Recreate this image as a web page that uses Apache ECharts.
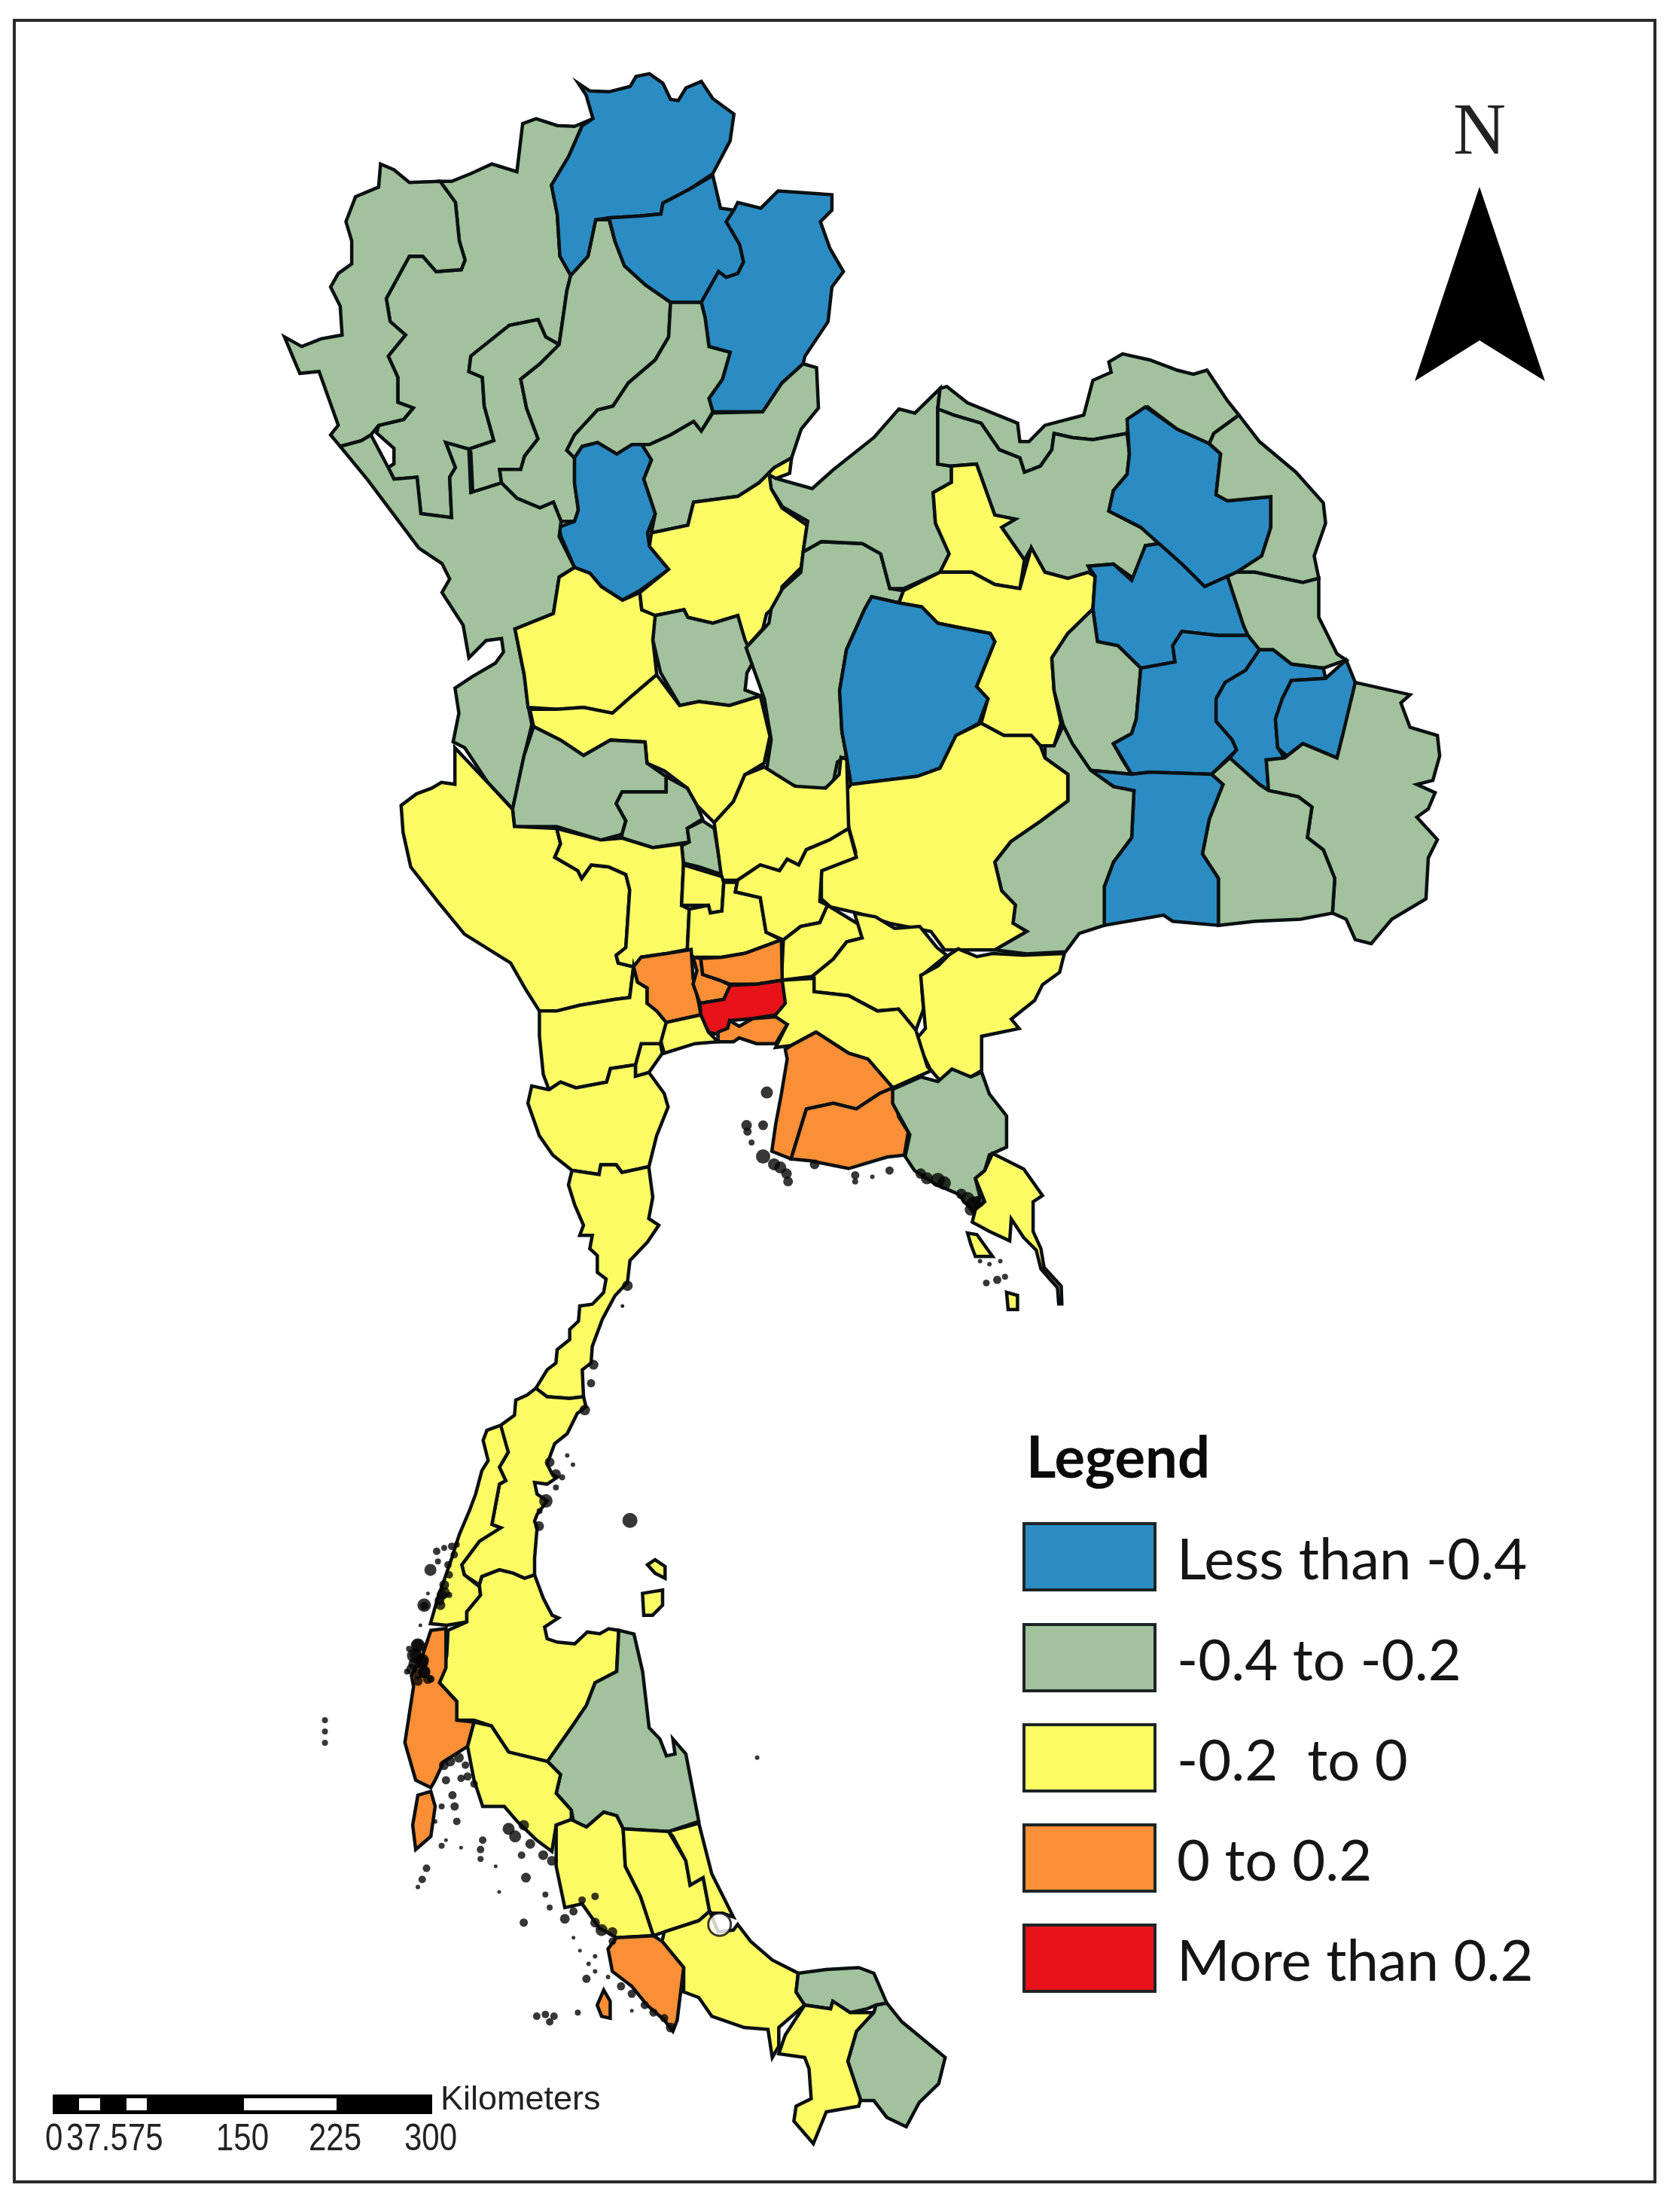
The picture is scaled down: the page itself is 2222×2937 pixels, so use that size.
<!DOCTYPE html>
<html><head><meta charset="utf-8">
<style>html,body{margin:0;padding:0;background:#fff}#c{width:2222px;height:2937px}</style>
<script src="https://cdn.jsdelivr.net/npm/echarts@6/dist/echarts.min.js"></script>
</head><body><div id="c"></div>
<script>
// crop frames in which the outlines were read: [x0, y0, scaleX, scaleY]
const frames = {
  a:[360,80,1.96,1.96], b:[1000,440,1.65,1.845], c:[520,850,1.96,1.96],
  d:[800,1150,2.412,2.412], e:[500,1600,3,2.24], f:[400,2100,1.742,2.01]
};
const legendLabels = ['Less than -0.4','-0.4 to -0.2','-0.2  to 0','0 to 0.2','More than 0.2'];
const legendColors = ['#2B8CC4','#A1C29C','#FDFB64','#FB8F35','#E8131A'];
const classMin = [null,-0.4,-0.2,0,0.2];
const classMax = [-0.4,-0.2,0,0.2,null];
const scaleLabels = ['0','37.5','75','150','225','300'];

const provinceNames = ['Chiang Mai','Mae Hong Son','Lamphun','Lampang','Chiang Rai','Phayao','Nan','Phrae','Uttaradit','Sukhothai','Tak','Kamphaeng Phet','Phitsanulok','Phichit','Phetchabun','Loei','Nong Khai','Udon Thani','Nong Bua Lam Phu','Khon Kaen','Chaiyaphum','Sakon Nakhon','Nakhon Phanom','Kalasin','Mukdahan','Maha Sarakham','Roi Et','Yasothon','Amnat Charoen','Ubon Ratchathani','Si Sa Ket','Surin','Buri Ram','Nakhon Ratchasima','Nakhon Sawan','Uthai Thani','Chai Nat','Sing Buri','Lop Buri','Kanchanaburi','Suphan Buri','Ang Thong','Ayutthaya','Saraburi','Nakhon Nayok','Prachin Buri','Sa Kaeo','Chachoengsao','Chon Buri','Rayong','Chanthaburi','Trat','Nakhon Pathom','Nonthaburi','Pathum Thani','Bangkok','Samut Prakan','Samut Sakhon','Samut Songkhram','Ratchaburi','Phetchaburi','Prachuap Khiri Khan','Chumphon','Ranong','Surat Thani','Phang Nga','Phuket','Nakhon Si Thammarat','Krabi','Trang','Phatthalung','Songkhla North','Songkhla','Satun','Pattani','Yala','Narathiwat'];
const provinceValues = [-0.3,-0.3,-0.3,-0.3,-0.5,-0.5,-0.5,-0.3,-0.3,-0.5,-0.3,-0.1,-0.1,-0.3,-0.3,-0.3,-0.3,-0.3,-0.1,-0.1,-0.5,-0.5,-0.3,-0.5,-0.3,-0.3,-0.5,-0.5,-0.5,-0.3,-0.3,-0.5,-0.3,-0.1,-0.1,-0.3,-0.3,-0.3,-0.1,-0.1,-0.1,-0.1,-0.1,-0.1,-0.1,-0.1,-0.1,-0.1,0.1,0.1,-0.3,-0.1,0.1,0.1,0.1,0.3,0.1,-0.1,-0.1,-0.1,-0.1,-0.1,-0.1,-0.1,-0.1,0.1,0.1,-0.3,-0.1,-0.1,-0.1,-0.1,-0.1,0.1,-0.3,-0.1,-0.3];
const provinceOutlines = [
['a','838,152 790,172 745,170 690,152 655,165 640,290 575,270 520,295 470,315 440,315 480,370 490,470 505,520 495,545 430,550 395,510 360,510 300,620 310,680 350,715 305,770 330,825 330,890 370,905 345,935 280,950 275,970 320,1010 320,1050 305,1060 320,1090 380,1085 390,1180 470,1190 465,1085 480,1060 455,995 515,1012 580,990 555,900 550,825 515,810 520,770 620,690 695,675 715,720 750,740 770,600 780,560 752,510 745,400 730,325 775,250 810,170'],
['a','440,315 360,318 320,285 285,270 280,330 220,355 195,420 210,470 210,530 175,555 155,590 180,640 185,715 130,725 80,745 35,720 60,780 75,815 125,810 150,880 175,950 155,975 180,1005 235,990 260,975 280,950 345,935 370,905 330,890 330,825 305,770 350,715 310,680 300,620 360,510 395,510 430,550 495,545 505,520 490,470 480,370'],
['a','620,690 695,675 715,720 750,740 700,790 650,830 665,905 695,985 660,1030 650,1065 595,1065 600,1100 525,1125 520,1020 515,1012 580,990 555,900 550,825 515,810 520,770'],
['a','845,415 880,415 895,470 920,535 975,585 1040,630 1035,720 1000,780 930,840 890,900 850,910 790,975 770,1015 790,1035 790,1100 800,1170 790,1200 755,1200 735,1150 700,1165 640,1140 600,1100 595,1065 650,1065 660,1030 695,985 665,905 650,830 700,790 750,740 770,600 780,560 825,510'],
['a','800,60 830,80 880,82 935,68 950,42 985,35 1020,60 1040,102 1060,105 1080,72 1120,55 1150,100 1205,140 1195,210 1150,295 1090,335 1020,372 1015,400 960,405 880,410 845,415 825,510 780,560 752,510 745,400 730,325 775,250 810,170 838,152 820,90'],
['a','880,410 960,405 1015,400 1020,372 1090,335 1150,300 1170,385 1205,390 1185,420 1220,480 1230,525 1215,555 1185,565 1165,550 1120,630 1040,630 975,585 920,535 895,470'],
['a','1205,390 1215,370 1275,385 1320,340 1390,345 1460,350 1460,390 1430,420 1455,490 1490,550 1460,590 1450,680 1390,770 1385,790 1330,840 1280,915 1150,915 1140,880 1175,830 1195,760 1140,745 1130,670 1120,630 1165,550 1185,565 1215,555 1230,525 1220,480 1185,420'],
['a','1040,630 1120,630 1130,670 1140,745 1195,760 1175,830 1140,880 1150,915 1120,965 1100,940 1040,975 985,1000 940,1000 900,1025 850,995 810,1005 790,1035 770,1015 790,975 850,910 890,900 930,840 1000,780 1035,720'],
['a','1150,918 1280,915 1330,840 1385,790 1420,800 1425,905 1380,960 1355,1035 1310,1060 1270,1100 1215,1135 1100,1150 1085,1210 990,1230 1000,1180 970,1090 990,1040 965,1000 985,1000 1040,975 1100,940 1120,965'],
['a','810,1005 850,995 900,1025 940,1000 965,1000 990,1040 970,1090 1000,1180 980,1230 985,1265 1035,1325 960,1380 915,1405 860,1370 830,1335 790,1320 755,1240 750,1215 790,1200 800,1170 790,1100 790,1035'],
['a','180,1005 235,990 260,975 305,1060 320,1090 380,1085 390,1180 470,1190 465,1085 480,1060 455,995 515,1012 520,1125 600,1100 640,1140 700,1165 735,1150 755,1200 750,1240 790,1320 750,1345 735,1440 635,1480 659,1599 669,1679 679,1729 659,1809 629,1949 564,1879 504,1789 474,1774 489,1699 479,1634 524,1604 584,1569 605,1540 600,1505 560,1510 515,1555 500,1470 445,1385 465,1350 445,1310 385,1270 310,1170 250,1090'],
['a','635,1480 735,1440 750,1345 790,1320 830,1335 860,1370 915,1405 960,1385 965,1430 1005,1445 994,1509 1004,1599 934,1659 889,1699 814,1684 744,1689 669,1684 659,1599'],
['a','1355,1035 1350,1075 1310,1090 1305,1120 1330,1165 1395,1210 1380,1320 1330,1370 1325,1410 1290,1440 1280,1480 1235,1530 1215,1445 1150,1465 1085,1450 1075,1430 1000,1445 965,1430 960,1385 1035,1325 985,1265 990,1230 1085,1210 1100,1150 1215,1135 1270,1100 1310,1060'],
['a','1000,1445 1075,1430 1085,1450 1150,1465 1215,1445 1234,1509 1259,1559 1239,1594 1234,1639 1274,1654 1194,1679 1114,1669 1064,1679 1014,1594 994,1509'],
['b','150,515 240,520 280,545 300,630 330,635 320,665 260,650 245,680 205,780 190,880 195,980 205,1040 185,1055 175,1110 130,1130 85,1110 30,1075 40,1000 25,900 -15,775 10,745 35,715 40,680 65,630 105,590 110,540'],
['b','36,352 50,360 130,385 175,340 265,260 320,190 355,200 410,140 405,190 405,325 435,330 435,370 395,395 400,470 430,545 410,590 330,630 300,630 280,545 240,520 150,515 110,540 120,465 65,430 40,385'],
['b','410,140 425,135 470,175 580,225 585,270 605,270 640,230 725,205 745,120 785,100 780,75 810,55 870,70 930,95 965,105 995,95 1040,170 1065,205 1010,250 1000,275 930,240 865,185 825,215 820,250 745,265 700,260 660,250 655,290 630,330 595,345 585,310 540,290 500,225 440,205 405,190'],
['b','405,190 440,205 500,225 540,290 585,310 595,345 630,330 655,290 660,250 700,260 745,265 820,250 825,300 820,350 790,390 780,440 850,480 890,520 860,525 840,610 790,570 735,575 745,600 690,605 640,590 610,530 595,560 545,480 575,460 530,450 490,325 435,330 405,325'],
['b','435,330 490,325 530,450 575,460 545,480 595,560 585,630 530,620 480,590 410,590 430,545 400,470 395,395 435,370'],
['b','330,635 410,590 480,590 530,620 585,630 610,530 640,590 690,605 735,590 750,600 745,680 690,740 655,800 660,880 675,960 660,1015 630,1015 610,990 550,990 500,960 515,900 490,870 530,760 520,740 450,725 405,715 370,675 320,665'],
['b','260,650 320,665 370,675 405,715 450,725 520,740 530,760 490,870 515,900 495,960 445,990 410,1070 360,1090 285,1100 215,1110 205,1040 195,980 190,880 205,780 245,680'],
['b','860,185 930,240 1000,275 1025,300 1015,400 1040,415 1135,405 1135,480 1115,550 1060,590 990,625 940,570 890,520 850,480 780,440 790,390 820,350 825,300 820,215'],
['b','1065,205 1110,270 1190,345 1250,420 1255,470 1230,550 1240,605 1205,615 1100,590 1060,590 1115,550 1135,480 1135,405 1040,415 1015,400 1025,300 1000,275 1010,250'],
['b','735,575 790,570 830,610 860,525 890,520 940,570 990,625 1040,600 1075,720 1085,745 1020,745 940,735 920,770 925,810 850,825 800,770 755,760 745,680 750,600'],
['b','1040,600 1060,590 1100,590 1205,615 1240,605 1240,700 1280,790 1300,805 1250,825 1180,815 1140,780 1110,780 1085,745 1075,720'],
['b','745,680 755,760 800,770 850,825 840,950 830,985 790,1010 810,1050 830,1085 740,1075 700,1010 680,965 660,880 655,800 690,740'],
['b','850,825 925,810 920,770 940,735 1020,745 1085,745 1110,780 1080,830 1035,860 1015,900 1015,955 1050,1000 1060,1025 1005,1085 870,1080 830,1085 790,1010 830,985 840,950'],
['b','1110,780 1140,780 1180,815 1250,825 1255,850 1180,855 1160,900 1145,950 1150,1020 1165,1045 1125,1050 1130,1125 1110,1110 1045,1045 1060,1025 1050,1000 1015,955 1015,900 1035,860 1080,830'],
['b','1180,855 1255,850 1300,805 1320,860 1310,920 1290,1000 1280,1045 1205,1010 1170,1040 1150,1020 1145,950 1160,900'],
['b','1320,860 1440,890 1420,910 1440,970 1500,990 1505,1040 1490,1100 1455,1110 1495,1130 1480,1170 1455,1190 1500,1245 1480,1290 1475,1390 1400,1440 1355,1500 1320,1490 1300,1440 1270,1425 1275,1340 1250,1270 1215,1240 1225,1165 1195,1140 1130,1125 1125,1050 1165,1045 1205,1010 1280,1045 1290,1000'],
['b','1005,1085 1045,1045 1110,1110 1130,1125 1195,1140 1225,1165 1215,1240 1250,1270 1275,1340 1270,1425 1200,1440 1100,1445 1020,1455 1020,1340 985,1280 1000,1195 1030,1110'],
['b','740,1075 830,1085 870,1080 1005,1085 1030,1110 1000,1195 985,1280 1020,1340 1020,1455 920,1445 900,1430 770,1455 770,1360 790,1300 830,1240 835,1125 790,1115'],
['b','640,1015 660,1015 680,965 700,1010 740,1075 790,1115 835,1125 830,1240 790,1300 770,1360 770,1455 715,1475 685,1520 600,1525 530,1515 600,1470 570,1450 575,1405 545,1370 530,1300 565,1250 630,1200 690,1150 690,1085 640,1045'],
['b','500,960 550,990 610,990 630,1015 640,1045 690,1085 690,1150 630,1200 565,1250 530,1300 545,1370 575,1405 570,1450 600,1470 530,1515 420,1515 390,1470 300,1450 230,1425 170,1410 150,1390 150,1320 225,1275 210,1215 200,1130 215,1110 285,1100 360,1090 410,1070 445,990'],
['c','360,180 430,180 500,175 575,190 620,150 690,90 750,170 800,160 880,170 960,145 985,250 970,320 920,350 890,420 840,475 795,430 770,385 710,340 665,320 660,265 570,260 500,300 440,260 370,225'],
['c','370,225 440,260 500,300 570,260 660,265 665,320 715,355 715,395 600,395 585,425 610,470 600,505 545,520 430,485 320,485 315,440 345,300'],
['c','715,395 715,355 770,385 795,430 810,465 770,490 775,525 680,540 600,515 600,505 610,470 585,425 600,395'],
['c','770,490 810,470 840,490 850,550 860,610 800,590 760,580 755,535 775,525'],
['c','840,475 890,420 920,350 970,330 1050,380 1130,385 1165,350 1170,305 1185,310 1190,490 1140,520 1080,545 1060,585 1030,570 1010,600 960,585 900,625 860,625 850,550'],
['c','165,280 250,370 315,440 320,485 430,490 440,530 425,565 485,600 495,620 520,585 565,590 610,610 620,650 610,800 585,820 590,840 630,850 620,930 580,935 490,950 430,965 385,965 350,910 310,840 190,765 120,680 50,590 30,500 25,430 65,400 105,385 130,370 165,375'],
['c','430,490 545,520 600,515 680,540 755,530 760,585 755,690 775,700 770,805 720,815 650,825 630,850 590,840 585,820 610,800 620,650 610,610 565,590 520,585 495,620 485,600 425,565 440,530'],
['c','760,585 860,615 865,630 860,705 830,710 825,690 755,690'],
['c','775,700 825,690 830,710 860,705 865,630 900,630 895,655 960,670 975,760 1015,780 920,815 860,825 785,825 770,805'],
['c','860,625 900,625 960,585 1010,600 1030,570 1060,585 1080,545 1140,520 1190,490 1210,565 1120,600 1115,680 1135,690 1115,735 1065,745 1020,780 975,760 960,670 895,655 900,630'],
['c','1020,780 1065,745 1115,735 1135,690 1225,745 1225,775 1185,785 1150,830 1095,875 1015,885'],
['c','1095,875 1150,830 1185,785 1225,775 1205,710 1260,720 1310,750 1375,745 1420,800 1445,820 1390,865 1380,900 1385,960 1365,1015 1320,960 1265,965 1190,925 1100,915'],
['d','1110,285 1140,265 1200,290 1250,280 1350,285 1480,280 1465,340 1410,380 1385,430 1310,490 1335,520 1215,545 1215,655 1180,675 1120,655 1080,685 1050,650 1005,555 1035,520 1020,350 1075,320'],
['c','1015,885 1100,880 1100,915 1190,925 1265,965 1320,960 1365,1015 1395,1110 1405,1120 1305,1165 1240,1090 1190,1075 1105,1020 1040,1055 1000,1060 1030,1000 990,985 1020,930'],
['c','1040,1055 1105,1020 1190,1075 1240,1090 1305,1165 1270,1180 1210,1220 1150,1205 1080,1220 1040,1350 990,1330 1000,1260 1015,1180 1030,1090 1025,1065'],
['c','1080,1220 1150,1205 1210,1220 1270,1180 1305,1165 1320,1240 1345,1280 1335,1340 1290,1345 1190,1375 1090,1355 1040,1350'],
['d','930,715 1020,675 1075,690 1120,650 1180,675 1215,660 1240,730 1295,800 1295,900 1240,925 1225,975 1195,1000 1210,1060 1190,1110 1140,1050 1070,1020 1000,975 970,930 985,860 960,815 930,760'],
['d','1250,920 1290,940 1350,970 1410,1055 1380,1075 1380,1170 1405,1225 1415,1285 1470,1345 1472,1402 1462,1402 1458,1350 1405,1290 1390,1230 1350,1190 1310,1130 1305,1200 1240,1170 1185,1140 1195,1100 1225,1075 1195,1000 1225,975','1170,1175 1200,1180 1250,1250 1195,1250 1180,1210','1295,1365 1330,1375 1330,1420 1300,1420'],
['c','630,850 650,825 720,815 780,805 785,880 800,945 805,975 715,995 690,965 665,945 665,905 640,890'],
['c','785,825 805,828 810,870 855,885 882,898 865,935 803,945 785,895 795,860'],
['c','805,828 860,825 920,815 1015,780 1017,885 950,895 880,895 855,885 810,870'],
['c','882,898 950,895 1017,885 1025,945 1000,975 940,985 880,990 875,1010 845,1025 825,1020 805,975 803,945 865,935'],
['c','905,1005 940,985 1000,980 1030,1000 1000,1050 950,1050 905,1035 890,1045 850,1045 850,1020 875,1010 880,990'],
['c','715,995 805,975 825,1020 850,1045 790,1050 710,1075 700,1040'],
['c','650,1050 700,1050 705,1075 670,1125 635,1135 635,1105'],
['c','385,965 430,965 490,950 580,935 620,930 630,850 640,890 665,905 665,945 690,965 715,995 700,1050 650,1050 635,1105 570,1115 560,1150 480,1165 440,1150 410,1170 395,1130 385,1030'],
['c','410,1170 440,1150 480,1165 560,1150 570,1115 635,1105 635,1135 670,1125 710,1180 720,1215 690,1290 670,1370 600,1385 585,1365 545,1365 540,1390 470,1380 420,1340 385,1290 355,1205 365,1160'],
['e','779,-103 887,-91 894,-120 955,-120 978,-97 1085,-114 1101,-23 1085,40 1125,60 1080,110 1010,165 1000,230 950,270 900,340 860,420 855,470 820,490 825,570 770,575 680,570 635,545 680,490 715,470 720,430 770,400 770,370 805,345 810,300 860,295 905,260 915,220 880,200 880,150 850,130 860,90 810,90 825,60 790,0 765,-60'],
['e','635,545 680,570 770,575 825,570 835,600 800,620 760,680 710,710 680,770 700,800 720,810 680,830 630,825 640,860 680,880 640,920 630,940 640,960 630,1050 630,1100 590,1110 545,1095 490,1085 420,1105 410,1130 350,1100 340,1070 410,1000 495,960 460,950 490,830 515,820 490,780 525,735 495,670 495,655 550,625 555,580 600,565'],
['e','495,655 525,735 490,780 515,820 490,830 460,950 495,960 410,1000 340,1070 350,1100 410,1135 415,1160 360,1210 360,1240 280,1250 215,1245 240,1180 300,1050 330,980 370,910 395,860 420,790 445,760 425,700 440,670'],
['e','420,1105 490,1085 545,1095 590,1110 630,1100 665,1170 700,1220 725,1228 670,1255 680,1290 720,1300 790,1305 840,1270 890,1275 925,1260 965,1265 957,1387 871,1421 837,1488 776,1554 682,1655 527,1627 458,1549 389,1532 320,1532 320,1476 251,1421 280,1340 285,1265 360,1240 360,1210 415,1160 410,1130','1080,1070 1110,1055 1150,1075 1150,1110 1110,1095','1060,1155 1100,1150 1140,1145 1140,1190 1100,1220 1065,1220'],
['f','300,130 335,125 335,230 320,270 360,320 360,370 400,375 385,440 330,480 310,530 300,550 265,530 240,430 260,280 255,250 280,200'],
['f','270,570 300,560 310,600 300,680 265,715 258,650'],
['f','735,130 770,140 790,240 805,390 830,420 845,465 865,460 860,420 890,460 920,640 850,667 745,660 730,625 700,615 660,655 630,640 625,610 590,565 600,515 570,480 625,390 660,330 680,270 730,240'],
['f','400,375 440,385 480,455 570,480 600,515 590,565 625,610 625,635 590,650 580,720 545,690 500,640 470,600 420,600 400,530 385,440'],
['f','625,635 660,655 700,615 730,625 745,660 750,760 785,840 815,945 730,950 690,925 650,860 610,870 590,760 590,650'],
['f','745,660 850,667 890,745 900,810 930,790 945,880 920,905 840,935 815,945 785,840 750,760'],
['f','850,667 920,645 950,780 1000,895 975,885 950,885 945,880 930,790 900,810 890,745 860,680'],
['f','840,935 920,905 945,880 965,935 1000,930 1010,915 1040,960 1090,1010 1150,1045 1145,1095 1165,1130 1105,1190 1105,1240 1090,1270 1080,1195 1025,1190 950,1160 920,1110 885,1095 885,1030 835,960'],
['f','730,950 815,945 835,960 885,1030 870,1170 860,1200 840,1170 800,1130 765,1080 720,1040 710,980','700,1090 715,1120 715,1165 695,1160 685,1130'],
['f','1150,1045 1215,1035 1290,1030 1325,1045 1355,1125 1330,1130 1310,1140 1270,1150 1230,1120 1225,1140 1165,1130 1145,1095'],
['f','1165,1130 1225,1140 1230,1120 1270,1150 1325,1150 1285,1200 1265,1280 1295,1380 1290,1400 1215,1415 1185,1500 1140,1440 1145,1400 1180,1380 1175,1300 1165,1270 1105,1260 1120,1210'],
['f','1330,1130 1355,1125 1390,1175 1490,1270 1475,1340 1430,1390 1400,1455 1355,1430 1325,1385 1295,1385 1265,1280 1285,1200 1325,1150']
];
// small offshore islands: frame, then x,y,size triples
const isletGroups = [
['d','527,725,16 462,830,14 465,850,11 515,830,13 478,885,8 515,930,19 550,955,16 570,965,16 590,985,14 595,1010,13 680,955,13 810,990,11 810,1010,8 865,995,6 920,975,11 1020,985,14 1040,1000,16 1075,1005,19 1095,1015,18 1150,1050,14 1170,1065,18 1190,1080,19 1205,1075,16 1180,1100,16 1210,1265,6 1240,1275,6 1275,1265,6 1230,1335,9 1265,1325,11 1290,1315,8 65,1410,3'],
['e','1000,240,14 980,300,5 865,475,13 855,530,11 830,610,14 760,745,6 783,772,6 690,765,13 715,800,13 740,810,8 715,840,8 675,880,18 650,910,8 648,955,13 1010,938,20 215,1085,16 190,1190,18 205,1155,5 175,1250,5 240,1030,10 270,1020,8 300,1015,10 320,1010,8 310,1040,10 245,1060,8 285,1070,10 290,1100,10 270,1130,13 260,1160,14 255,1190,13 290,1160,8 165,1310,19 150,1340,19 180,1360,18 140,1380,14 190,1390,16 205,1410,13 165,1395,14 130,1320,8'],
['f','55,370,8 55,400,8 55,430,8 1055,470,6 285,65,11 330,30,16 320,50,13 270,170,16 265,195,16 262,220,16 280,210,18 285,240,16 270,265,13 245,240,8 300,260,10 330,490,13 345,480,13 365,470,13 380,490,10 335,530,11 370,525,10 385,520,11 400,540,10 350,570,11 355,600,11 360,640,10 325,600,8 310,640,6 335,690,5 370,710,5 325,705,8 420,690,10 415,715,10 415,740,8 290,765,10 280,795,10 270,815,6 450,760,5 458,828,5 480,660,16 495,680,16 515,650,14 530,700,13 510,730,10 560,730,13 580,745,13 520,790,13 565,835,8 575,870,8 610,900,13 630,880,11 650,850,10 680,840,10 515,910,11 630,950,5 645,985,5 680,1000,6 665,1020,6 660,1060,11 680,1040,6 710,1055,6 680,910,13 695,930,16 720,935,13 740,1080,11 765,1100,11 795,1130,11 815,1150,11 765,1145,5 855,1190,13 840,1165,11 545,1160,10 565,1155,10 585,1160,10 575,1175,10 640,1150,8 720,960,10']
];
const lakes = [['f',968,915,30]];

const toPage = (fr,x,y)=>{const f=frames[fr];return [f[0]+x/f[2], -(f[1]+y/f[3])];};
const closeRing = r => r.concat([r[0]]);
const parseRing = (fr,s)=>closeRing(s.trim().split(/\s+/).map(p=>{const q=p.split(',').map(Number);return toPage(fr,q[0],q[1]);}));
const geojson = {type:'FeatureCollection',features:provinceNames.map((n,i)=>{
  const o=provinceOutlines[i];
  return {type:'Feature',properties:{name:n},geometry:{type:'MultiPolygon',
    coordinates:o.slice(1).map(s=>[parseRing(o[0],s)])}};
})};
echarts.registerMap('thailand',geojson);

const isletData=[];
isletGroups.forEach(g=>g[1].trim().split(/\s+/).forEach(t=>{
  const q=t.split(',').map(Number);const p=toPage(g[0],q[0],q[1]);isletData.push([p[0],p[1],q[2]]);
}));
const lakeData=lakes.map(l=>{const p=toPage(l[0],l[1],l[2]);return [p[0],p[1],l[3]];});

const txt=(x,y,text,font,size,extra,sy)=>({type:'text',x,y,scaleY:sy||1,silent:true,style:Object.assign({text,fontFamily:font,fontSize:size,fill:'#151515',textVerticalAlign:'bottom'},extra||{})});
const g=[];
g.push({type:'rect',silent:true,shape:{x:19,y:27,width:2179,height:2870},style:{fill:'none',stroke:'#2a2a2a',lineWidth:4}});
g.push(txt(1965,227,'N','"Liberation Serif"',97,{textAlign:'center',fill:'#222'}));
g.push({type:'polygon',silent:true,shape:{points:[[1965,248],[2052,506],[1965,452],[1879,506]]},style:{fill:'#000'}});
g.push(txt(1363,1975,'Legend','Lato',76,{fontWeight:'bold',fill:'#0a0a0a'}));
const swatchTop=[2023,2157,2290,2423,2556];
legendLabels.forEach((l,i)=>{
  g.push({type:'rect',silent:true,shape:{x:1360,y:swatchTop[i],width:174,height:88},style:{fill:legendColors[i],stroke:'#1c2426',lineWidth:4}});
  g.push(txt(1563,swatchTop[i]+87,l,'Lato',76));
});
g.push({type:'rect',silent:true,shape:{x:70,y:2781,width:504,height:26},style:{fill:'#000'}});
[[105,28],[168,27],[324,123]].forEach(b=>g.push({type:'rect',silent:true,shape:{x:b[0],y:2786,width:b[1],height:16},style:{fill:'#fff'}}));
g.push(txt(585,2811,'Kilometers','"Liberation Sans"',45,{fill:'#222'}));
const scaleX=[60,88,170,287,410,537];
scaleLabels.forEach((s,i)=>g.push(txt(scaleX[i],2866,s,'"Liberation Sans"',42,{fill:'#222'},1.17)));

const chart=echarts.init(document.getElementById('c'),null,{renderer:'canvas',width:2222,height:2937});
chart.setOption({
  animation:false,backgroundColor:'#fff',
  geo:{map:'thailand',aspectScale:1,boundingCoords:[[0,0],[2222,-2937]],layoutCenter:[1111,1468.5],layoutSize:2937,roam:false,silent:true,
    label:{show:false},itemStyle:{borderColor:'#0a1012',borderWidth:4.5,areaColor:'#fff'},emphasis:{disabled:true},select:{disabled:true}},
  visualMap:{type:'piecewise',show:false,seriesIndex:0,
    pieces:legendLabels.map((l,i)=>{const p={label:l,color:legendColors[i]};if(classMin[i]!==null)p.min=classMin[i];if(classMax[i]!==null)p.max=classMax[i];return p;})},
  series:[
    {type:'map',geoIndex:0,silent:true,data:provinceNames.map((n,i)=>({name:n,value:provinceValues[i]}))},
    {type:'scatter',coordinateSystem:'geo',silent:true,symbol:'circle',symbolSize:v=>v[2],data:isletData,itemStyle:{color:'#050505'},z:5},
    {type:'scatter',coordinateSystem:'geo',silent:true,symbol:'circle',symbolSize:v=>v[2],data:lakeData,itemStyle:{color:'#fff',borderColor:'#0a0a0a',borderWidth:3},z:6}
  ],
  graphic:g
});
</script></body></html>
